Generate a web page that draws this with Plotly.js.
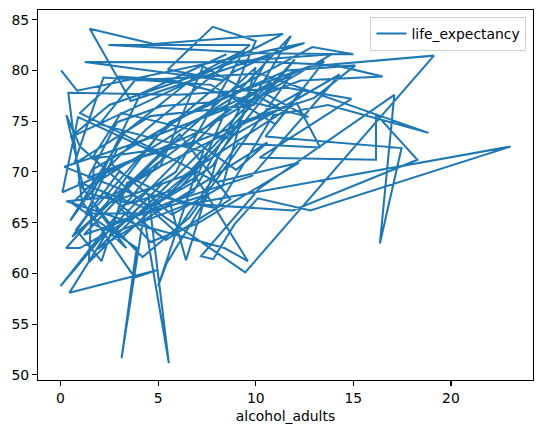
<!DOCTYPE html>
<html>
<head>
<meta charset="utf-8">
<script src="https://cdn.plot.ly/plotly-3.0.1.min.js"></script>
<style>html,body{margin:0;padding:0;background:#fff;}#chart{width:543px;height:433px;}</style>
</head>
<body>
<div id="chart"></div>
<script>
// Values (rows in original, unsorted order)
const alcohol_adults = [
  0.03, 0.85, 12.5, 3.6, 1.5, 4.76, 11.4, 6.2, 0.5, 2.5,
  9.0, 13.9, 7.0, 0.1, 0.9, 5.3, 2.4, 0.0, 2.0, 8.3,
  10.8, 4.9, 1.45, 1.7, 6.9, 12.9, 15.0, 10.2, 2.45, 9.7,
  4.4, 0.6, 3.9, 3.13, 4.3, 7.8, 11.8, 8.8, 1.2, 0.3,
  1.0, 5.9, 9.1, 13.3, 12.1, 6.3, 2.3, 0.29, 1.0, 6.9,
  10.0, 7.8, 5.5, 8.4, 1.24, 11.2, 14.1, 16.5, 12.3, 4.1,
  0.2, 3.5, 9.46, 19.13, 12.7, 6.7, 2.9, 1.3, 4.25, 5.55,
  4.5, 8.0, 10.9, 13.7, 18.85, 10.2, 3.8, 2.0, 7.3, 5.0,
  5.44, 7.6, 2.7, 0.46, 4.93, 3.8, 1.1, 0.4, 6.0, 11.6,
  14.9, 10.2, 16.16, 16.16, 18.28, 11.9, 6.2, 3.0, 0.8, 2.1,
  3.4, 8.7, 12.4, 10.5, 17.47, 16.36, 17.1, 10.2, 7.2, 7.82,
  8.9, 10.1, 12.8, 23.05, 6.5, 2.6, 3.37, 1.8, 5.6, 9.3,
  13.5, 11.0, 7.7, 2.2, 0.7, 4.6, 9.9, 12.0, 8.1, 6.43,
  5.6, 9.8, 14.3, 8.6, 3.1, 1.6, 6.4, 11.3, 7.3, 5.1,
  2.5, 0.3, 4.0, 8.4, 9.6, 6.7, 10.4, 12.7, 5.8, 3.0,
  1.0, 4.8, 8.0, 12.2, 7.0, 4.6, 3.0, 6.1, 9.2, 13.0,
  15.1, 11.6, 7.9, 5.2, 2.9, 1.4, 3.7, 6.9, 9.0, 10.6,
  1.9, 5.2, 2.8, 0.9, 4.4, 7.4, 3.2, 1.5, 6.1, 8.7,
  5.4, 2.2, 0.6, 3.9, 9.5, 11.8, 6.6, 4.2, 2.0, 5.0,
  8.9, 10.7, 6.8, 3.6, 1.2, 4.7, 7.5, 10.0, 8.3, 5.7,
  2.6, 0.5, 3.3, 7.1, 9.4, 5.9, 3.5, 1.6, 4.1, 8.5
];
const life_expectancy = [
  80.0, 78.0, 82.7, 77.0, 84.1, 82.6, 83.6, 78.5, 73.4, 76.6,
  80.9, 81.6, 73.9, 68.0, 75.4, 71.5, 64.6, 58.75, 63.3, 75.6,
  78.9, 67.6, 61.1, 70.3, 76.1, 82.3, 81.6, 81.7, 82.5, 82.5,
  74.2, 66.9, 62.5, 51.64, 66.2, 70.6, 83.4, 77.3, 68.2, 75.6,
  72.5, 64.1, 72.8, 72.4, 76.8, 69.6, 66.8, 62.5, 62.5, 69.1,
  82.9, 84.3, 80.1, 79.0, 80.84, 80.8, 80.5, 79.4, 79.0, 73.0,
  70.5, 68.0, 60.1, 81.46, 80.4, 74.9, 72.2, 65.9, 65.9, 51.15,
  67.8, 66.4, 75.6, 76.6, 73.85, 79.7, 79.0, 74.7, 72.0, 58.75,
  61.0, 67.8, 65.0, 58.1, 60.3, 59.6, 67.1, 77.8, 77.6, 78.3,
  77.2, 71.4, 71.2, 75.7, 71.2, 66.2, 66.9, 70.0, 64.3, 61.2,
  68.9, 74.0, 78.0, 73.5, 72.35, 62.94, 77.6, 68.4, 61.7, 61.4,
  64.8, 67.4, 66.2, 72.5, 66.8, 63.9, 62.5, 66.5, 74.9, 78.0,
  80.9, 74.7, 78.6, 79.3, 70.8, 75.5, 76.6, 81.1, 71.8, 61.3,
  67.0, 69.6, 79.6, 73.3, 75.8, 71.3, 72.6, 76.2, 80.4, 70.5,
  67.5, 67.1, 64.8, 62.5, 61.2, 70.2, 77.8, 75.4, 79.0, 79.4,
  75.8, 72.2, 69.0, 70.9, 64.9, 63.1, 66.6, 68.4, 74.9, 77.3,
  80.5, 80.0, 76.9, 76.5, 74.9, 69.4, 71.2, 73.0, 70.2, 72.9,
  62.4, 68.8, 64.2, 69.0, 66.4, 71.2, 63.6, 65.0, 73.7, 67.3,
  63.3, 68.0, 63.6, 69.3, 77.4, 79.5, 65.5, 61.6, 66.0, 73.6,
  79.9, 81.5, 68.0, 65.4, 63.8, 70.9, 75.8, 80.3, 68.6, 65.8,
  70.8, 65.2, 73.9, 79.7, 82.0, 70.0, 66.9, 67.8, 77.7, 81.6
];
const xTicks = [0, 5, 10, 15, 20];
const yTicks = [50, 55, 60, 65, 70, 75, 80, 85];
const seriesName = 'life_expectancy';
const xTitle = 'alcohol_adults';

function padRange(arr) {
  const mn = Math.min(...arr), mx = Math.max(...arr);
  const p = (mx - mn) * 0.05;
  return [mn - p, mx + p];
}

const font = {family: 'DejaVu Sans, sans-serif', size: 13.9, color: '#000'};

const trace = {
  x: alcohol_adults,
  y: life_expectancy,
  type: 'scatter',
  mode: 'lines',
  name: seriesName,
  showlegend: true,
  line: {color: '#1f77b4', width: 2.05}
};

const axisCommon = {
  showgrid: false,
  zeroline: false,
  showline: true,
  linecolor: '#000',
  linewidth: 1.1,
  mirror: true,
  ticks: 'outside',
  ticklen: 5,
  tickwidth: 1.1,
  tickcolor: '#000',
  tickfont: font
};

const layout = {
  width: 543,
  height: 433,
  margin: {l: 38, r: 10, t: 10, b: 53, pad: 0},
  paper_bgcolor: '#fff',
  plot_bgcolor: '#fff',
  font: font,
  xaxis: Object.assign({}, axisCommon, {
    range: padRange(alcohol_adults),
    tickvals: xTicks,
    ticktext: xTicks.map(String),
    title: {text: xTitle, font: font, standoff: 6}
  }),
  yaxis: Object.assign({}, axisCommon, {
    range: padRange(life_expectancy),
    tickvals: yTicks,
    ticktext: yTicks.map(String)
  }),
  legend: {
    x: 0.9867, y: 0.981, xanchor: 'right', yanchor: 'top',
    bgcolor: 'rgba(255,255,255,0.8)',
    bordercolor: '#d0d0d0', borderwidth: 1,
    font: font
  }
};

Plotly.newPlot('chart', [trace], layout, {staticPlot: true, displayModeBar: false});
</script>
</body>
</html>
